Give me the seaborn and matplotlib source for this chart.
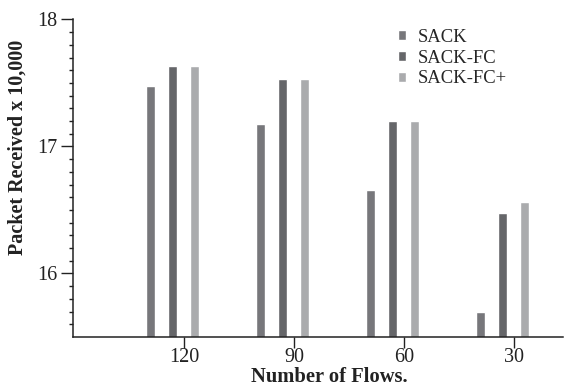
import matplotlib
matplotlib.use("Agg")
import matplotlib.pyplot as plt
import seaborn as sns
import pandas as pd
import numpy as np

# Number of flows (categories) and packets received (x 10,000) per protocol
flows = ["120", "90", "60", "30"]
protocols = ["SACK", "SACK-FC", "SACK-FC+"]
sack = [17.48, 17.18, 16.66, 15.70]
sack_fc = [17.63, 17.53, 17.20, 16.48]
sack_fc_plus = [17.63, 17.53, 17.20, 16.56]
colors = ["#77777b", "#656669", "#aaabad"]

df = pd.DataFrame({
    "flows": flows * 3,
    "protocol": np.repeat(protocols, len(flows)),
    "packets": sack + sack_fc + sack_fc_plus,
})

sns.set_style("ticks")
plt.rcParams["font.family"] = ["Liberation Serif", "DejaVu Serif"]

fig = plt.figure(figsize=(5.64, 3.86), dpi=100)
ax = fig.add_axes([0.1294, 0.127, 0.8686, 0.8225])

sns.barplot(data=df, x="flows", y="packets", hue="protocol", order=flows,
            hue_order=protocols, palette=colors, width=0.6, gap=0.59,
            saturation=1, ax=ax, legend=True)

ax.set_ylim(15.5, 18)
ax.set_xlim(-0.909, 3.545)
ax.set_xticks(np.arange(len(flows)) + 0.1)
ax.set_xticklabels(flows)
ax.set_yticks([16, 17, 18])
ax.set_yticks(np.arange(15.6, 18.0, 0.1), minor=True)
ax.tick_params(axis="both", labelsize=14.5, colors="#222222", width=1)
ax.tick_params(axis="y", which="major", length=9, pad=2)
ax.tick_params(axis="y", which="minor", length=3, width=1, color="#222222")
ax.tick_params(axis="x", which="major", length=8, pad=0)
for lbl in ax.get_xticklabels() + ax.get_yticklabels():
    lbl.set_color("#222222")

sns.despine(ax=ax)
for s in ("left", "bottom"):
    ax.spines[s].set_color("#222222")
    ax.spines[s].set_linewidth(1.1)

ax.set_xlabel("Number of Flows.", fontsize=14.8, fontweight="bold", color="#222222")
ax.xaxis.set_label_coords(0.524, -0.094)
ax.set_ylabel("Packet Received x 10,000", fontsize=14.5, fontweight="bold", color="#222222")
ax.yaxis.set_label_coords(-0.092, 0.597)

handles, labels = ax.get_legend_handles_labels()
ax.legend(handles, labels, loc="upper left", bbox_to_anchor=(398 / 564, 1 - 29 / 386),
          bbox_transform=fig.transFigure, frameon=False, fontsize=13.4,
          handlelength=0.45, handleheight=0.45, handletextpad=0.6,
          labelspacing=0.2, borderpad=0, borderaxespad=0)

fig.savefig("out.png", dpi=100)
